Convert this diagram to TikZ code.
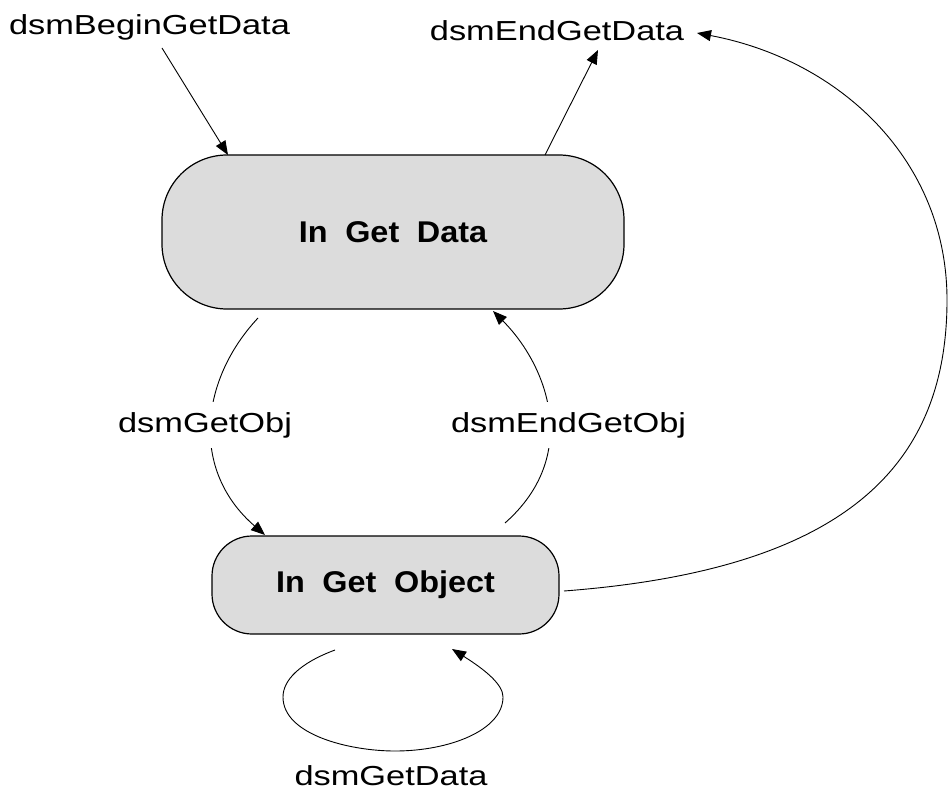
\documentclass[tikz,border=0pt]{standalone}
\usepackage{graphicx}
\usepackage{fontspec}
\setmainfont{Liberation Sans}
\usetikzlibrary{arrows.meta}
\definecolor{boxgray}{RGB}{220,220,220}
\newcommand{\rlbl}[1]{\scalebox{1.25}[1]{\fontsize{27.5}{30}\selectfont #1}}
\newcommand{\blbl}[1]{\scalebox{1.08}[1]{\fontsize{30}{34}\selectfont\bfseries #1}}
\begin{document}
\begin{tikzpicture}[x=1pt,y=-1pt,
  state/.style={draw=black, line width=1.2pt, fill=boxgray, rectangle, inner sep=0pt},
  conn/.style={line width=0.9pt, -{Triangle[length=14pt,width=11pt]}},
  lbl/.style={inner sep=0pt, anchor=base},
  cut/.style={fill=white, inner xsep=2pt, inner ysep=10pt}]
\useasboundingbox (0,0) rectangle (949,791);

% states
\node[state, minimum width=462pt, minimum height=154pt, rounded corners=65pt] (gd) at (393,232)
  {\blbl{In\hspace{8pt} Get\hspace{8pt} Data}};
\node[state, minimum width=347pt, minimum height=98pt, rounded corners=40pt] (go) at (385.5,585)
  {\blbl{In\hspace{8pt} Get\hspace{8pt} Object}};

% free labels
\node[lbl] (lbegin) at (149.5,35) {\rlbl{dsmBeginGetData}};
\node[lbl] (lend) at (557,41) {\rlbl{dsmEndGetData}};
\node[lbl] (lgetdata) at (391,785) {\rlbl{dsmGetData}};

% connector end points
\coordinate (b0) at (162,48);
\coordinate (b1) at (228,155);
\coordinate (e0) at (545,155);
\coordinate (e1) at (598,50);
\coordinate (g0) at (258,318);
\coordinate (g1) at (265,535);
\coordinate (o0) at (505,523);
\coordinate (o1) at (493,311);
\coordinate (x0) at (564,591);
\coordinate (x1) at (697,33);
\coordinate (l0) at (335,650);
\coordinate (l1) at (452,649);

% connectors
\draw[conn] (b0) -- (b1);
\draw[conn] (e0) -- (e1);
\draw[conn] (g0) .. controls (200,380) and (190,470) .. (g1);
\draw[conn] (o0) .. controls (582,455) and (547,365) .. (o1);
\draw[conn] (x0) .. controls (840,570) and (947,470) .. (947,300)
               .. controls (947,160) and (840,60) .. (x1);
\draw[conn] (l0) .. controls (300,663) and (283,680) .. (283,697)
               .. controls (283,735) and (350,751) .. (395,751)
               .. controls (450,751) and (503,730) .. (503,697)
               .. controls (503,685) and (487,671) .. (l1);

% labels on the curves
\node[lbl, cut] (lgetobj) at (205,432) {\rlbl{dsmGetObj}};
\node[lbl, cut] (lendobj) at (568.5,432) {\rlbl{dsmEndGetObj}};
\end{tikzpicture}
\end{document}
